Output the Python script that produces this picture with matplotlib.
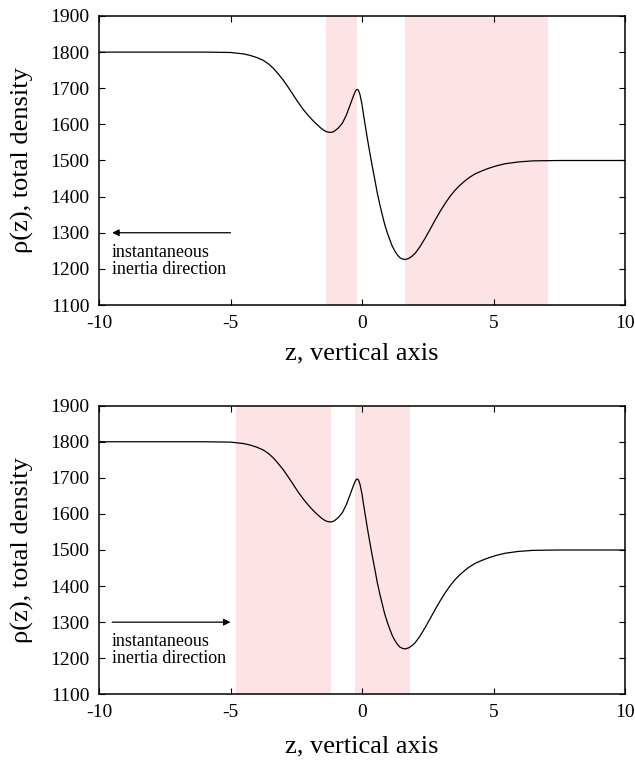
"""
Total density profile rho(z) along the vertical axis, shown twice with
different shaded bands and the instantaneous inertia direction.
"""

import matplotlib
matplotlib.use("Agg")
import matplotlib.pyplot as plt

plt.rcParams["font.family"] = ["Liberation Serif", "DejaVu Serif"]
plt.rcParams["axes.unicode_minus"] = False

# density profile read along z
z = [-10, -6, -5.0, -4.5, -4.26, -4.0, -3.75, -3.55, -3.37, -3.2, -3.0,
     -2.8, -2.61, -2.42, -2.23, -2.05, -1.9, -1.75, -1.6, -1.48, -1.36,
     -1.25, -1.15, -1.05, -0.9, -0.75, -0.6, -0.45, -0.33, -0.25, -0.2,
     -0.14, -0.08, 0.0, 0.05, 0.11, 0.2, 0.3, 0.4, 0.49, 0.58, 0.68,
     0.78, 0.87, 0.97, 1.06, 1.15, 1.25, 1.35, 1.44, 1.55, 1.65, 1.78,
     1.9, 2.02, 2.2, 2.4, 2.6, 2.78, 2.97, 3.16, 3.35, 3.54, 3.73, 3.92,
     4.1, 4.3, 4.55, 4.8, 5.1, 5.44, 5.94, 6.5, 7.5, 10]
rho = [1800, 1800, 1799, 1795, 1791, 1785, 1777, 1767, 1755, 1741, 1723,
       1702, 1681, 1660, 1641, 1625, 1613, 1602, 1592, 1585, 1580,
       1578, 1578, 1581, 1590, 1603, 1625, 1654, 1678, 1692, 1697,
       1695, 1683, 1655, 1630, 1603, 1562, 1520, 1480, 1446, 1410, 1377,
       1347, 1321, 1298, 1280, 1263, 1249, 1238, 1231, 1227, 1226, 1229,
       1235, 1243, 1261, 1285, 1311, 1335, 1359, 1381, 1401, 1418, 1432,
       1444, 1454, 1463, 1471, 1478, 1485, 1491, 1496, 1499, 1500, 1500]

# shaded z-intervals for each panel
bands_top = [(-1.37, -0.19), (1.63, 7.07)]
bands_bottom = [(-4.79, -1.18), (-0.27, 1.83)]

xticks = [-10, -5, 0, 5, 10]
yticks = [1100, 1200, 1300, 1400, 1500, 1600, 1700, 1800, 1900]

fig = plt.figure(figsize=(6.35, 7.65), dpi=100)
ax_top = fig.add_axes([0.1559, 0.6013, 0.8284, 0.3778])
ax_bot = fig.add_axes([0.1559, 0.0924, 0.8284, 0.3773])


def draw_panel(ax, bands, arrow_left, xlabel_y):
    for a, b in bands:
        ax.axvspan(a, b, color="#fde3e5", lw=0, zorder=0)
    ax.plot(z, rho, color="black", lw=0.9, zorder=2)

    ax.set_xlim(-10, 10)
    ax.set_ylim(1100, 1900)
    ax.set_xticks(xticks)
    ax.set_yticks(yticks)
    ax.tick_params(direction="in", length=4, width=0.8, labelsize=14,
                   top=True, right=True, pad=7)
    for sp in ax.spines.values():
        sp.set_linewidth(1.1)

    ax.set_xlabel("z, vertical axis", fontsize=19)
    ax.xaxis.set_label_coords(0.5, xlabel_y)
    ax.set_ylabel("\u03c1(z), total density", fontsize=19)
    ax.yaxis.set_label_coords(-0.123, 0.5)

    if arrow_left:
        start, end = (-5.0, 1300), (-9.5, 1300)
    else:
        start, end = (-9.5, 1300), (-5.0, 1300)
    ax.annotate("", xy=end, xytext=start,
                arrowprops=dict(arrowstyle="-|>", color="black", lw=0.9,
                                mutation_scale=10, shrinkA=0, shrinkB=0))
    ax.text(-9.5, 1222, "instantaneous\ninertia direction", fontsize=13,
            ha="left", va="center", linespacing=1.0)


draw_panel(ax_top, bands_top, arrow_left=True, xlabel_y=-0.128)
draw_panel(ax_bot, bands_bottom, arrow_left=False, xlabel_y=-0.142)

fig.savefig("out.png", dpi=100)
